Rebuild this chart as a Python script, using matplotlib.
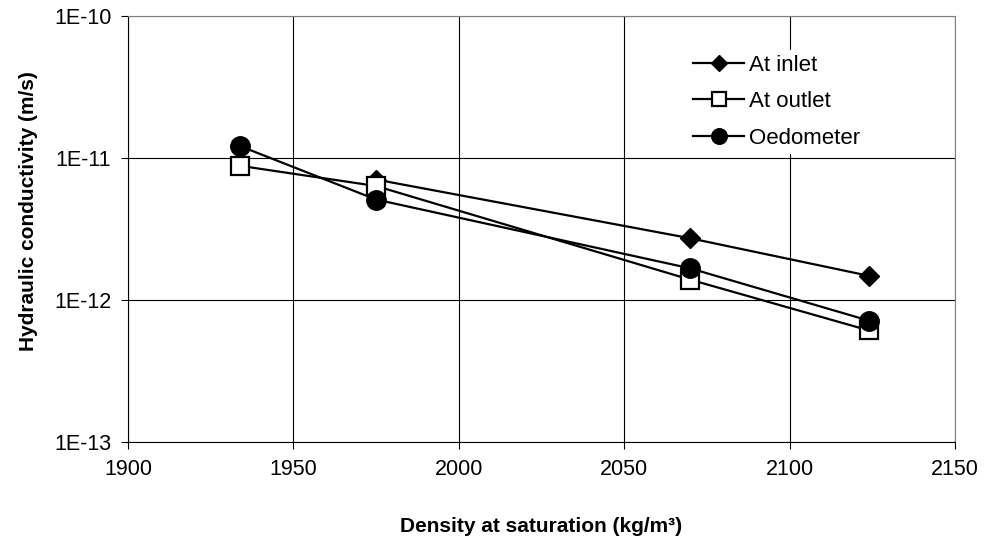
import matplotlib
matplotlib.use("Agg")
import matplotlib.pyplot as plt
import matplotlib.ticker as mticker

plt.rcParams['font.family'] = ['Liberation Sans', 'DejaVu Sans']

# Hydraulic conductivity vs. density at saturation
density_inlet = [1975, 2070, 2124]
k_inlet = [7.05e-12, 2.72e-12, 1.48e-12]

density_outlet = [1934, 1975, 2070, 2124]
k_outlet = [8.8e-12, 6.35e-12, 1.39e-12, 6.1e-13]

density_oedo = [1934, 1975, 2070, 2124]
k_oedo = [1.21e-11, 5.1e-12, 1.67e-12, 7.15e-13]

y_ticks = [1e-13, 1e-12, 1e-11, 1e-10]
y_ticklabels = ["1E-13", "1E-12", "1E-11", "1E-10"]
x_ticks = [1900, 1950, 2000, 2050, 2100, 2150]

fig = plt.figure(figsize=(9.84, 5.42), dpi=100)
ax = fig.add_axes([0.130, 0.1845, 0.8405, 0.786])

ax.plot(density_inlet, k_inlet, color="black", lw=1.6, marker="D",
        ms=10, mfc="black", mec="black", label="At inlet", zorder=3)
ax.plot(density_outlet, k_outlet, color="black", lw=1.6, marker="s",
        ms=13, mfc="white", mec="black", mew=1.6, label="At outlet", zorder=4)
ax.plot(density_oedo, k_oedo, color="black", lw=1.6, marker="o",
        ms=14, mfc="black", mec="black", label="Oedometer", zorder=5)

ax.set_yscale("log")
ax.set_ylim(1e-13, 1e-10)
ax.set_xlim(1900, 2150)
ax.yaxis.set_major_locator(mticker.FixedLocator(y_ticks))
ax.yaxis.set_minor_locator(mticker.NullLocator())
ax.set_yticklabels(y_ticklabels)
ax.set_xticks(x_ticks)

ax.grid(True, color="black", lw=0.8)
ax.tick_params(direction="out", length=5, width=0.8, pad=7, labelsize=15.5)

for side in ("top", "right"):
    ax.spines[side].set_color("#808080")
for side in ("left", "bottom"):
    ax.spines[side].set_color("black")

ax.set_xlabel("Density at saturation (kg/m³)", fontsize=15,
              fontweight="bold", labelpad=27)
ax.set_ylabel("Hydraulic conductivity (m/s)", fontsize=15,
              fontweight="bold", labelpad=11.5, y=0.542)

leg = ax.legend(loc="upper left", bbox_to_anchor=(0.678, 0.920),
                fontsize=16, frameon=True, fancybox=False, framealpha=1,
                edgecolor="white", borderaxespad=0, borderpad=0.2,
                handlelength=2.3, handletextpad=0.22, labelspacing=0.70,
                markerscale=0.8)
leg.set_zorder(6)

fig.savefig("out.png", dpi=100)
